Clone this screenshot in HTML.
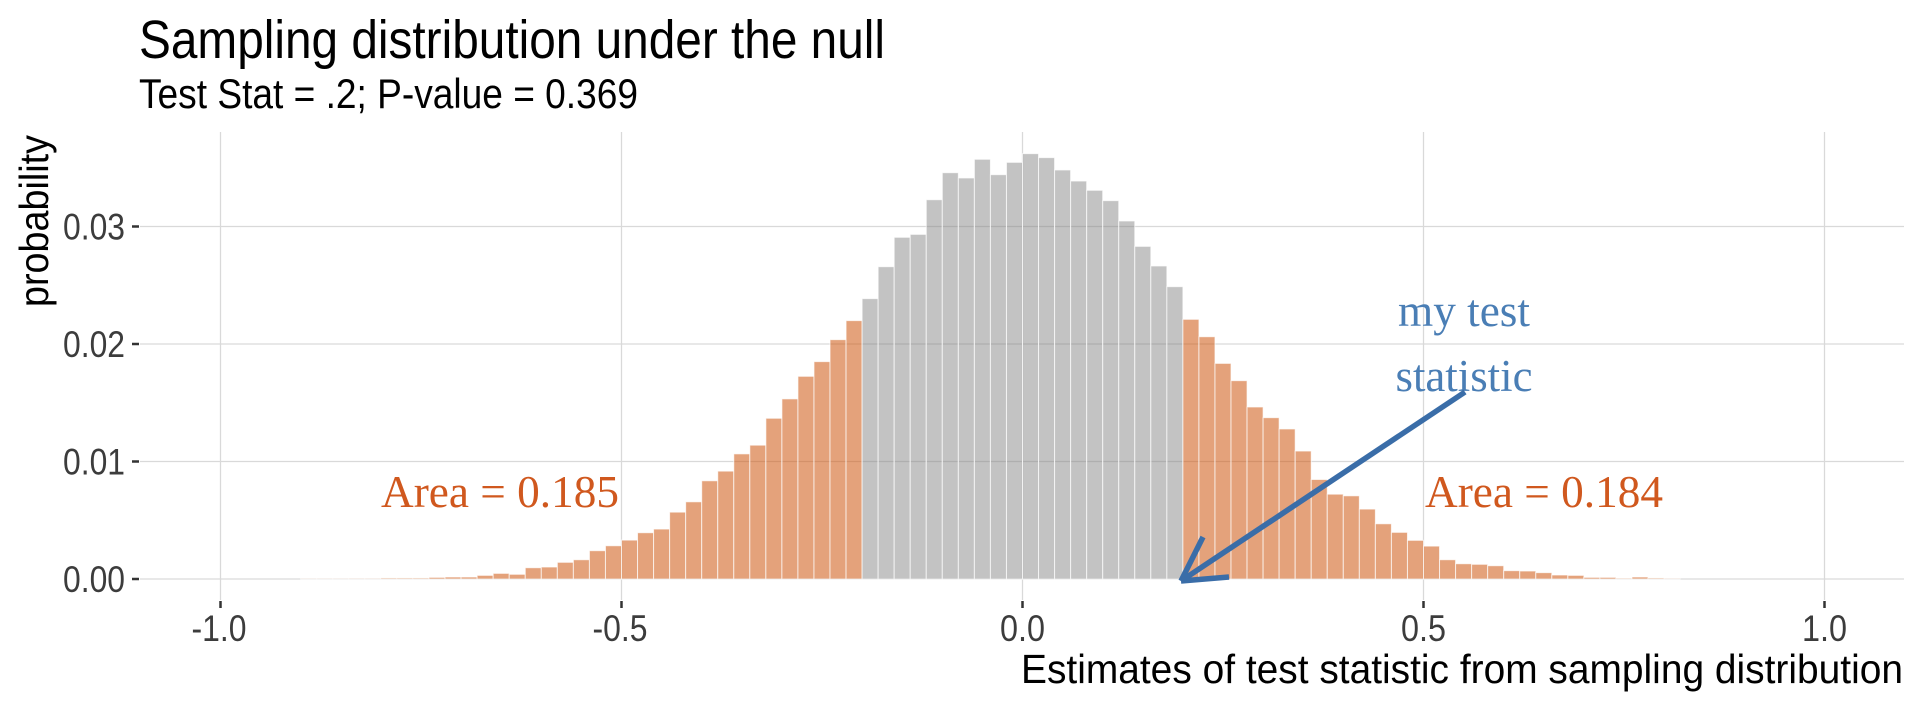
<!DOCTYPE html>
<html><head><meta charset="utf-8"><style>
html,body{margin:0;padding:0;background:#fff;}
svg{display:block;}
.c{font-family:"Liberation Sans Narrow","Liberation Sans",sans-serif;}
</style></head><body>
<svg id="s" width="1920" height="710" xmlns="http://www.w3.org/2000/svg">
<rect width="1920" height="710" fill="#fff"/>
<g id="grid" stroke="#d9d9d9" stroke-width="1.3">
<line x1="140" x2="1904" y1="579" y2="579"/>
<line x1="140" x2="1904" y1="461.5" y2="461.5"/>
<line x1="140" x2="1904" y1="344" y2="344"/>
<line x1="140" x2="1904" y1="226.5" y2="226.5"/>
<line x1="220.5" x2="220.5" y1="132" y2="600"/>
<line x1="621.5" x2="621.5" y1="132" y2="600"/>
<line x1="1022.5" x2="1022.5" y1="132" y2="600"/>
<line x1="1423.5" x2="1423.5" y1="132" y2="600"/>
<line x1="1824.5" x2="1824.5" y1="132" y2="600"/>
</g>
<g id="bars"></g>
<g stroke="#333" stroke-width="2.5">
<line x1="132" x2="139" y1="579" y2="579"/><line x1="132" x2="139" y1="461.5" y2="461.5"/>
<line x1="132" x2="139" y1="344" y2="344"/><line x1="132" x2="139" y1="226.5" y2="226.5"/>
<line x1="220.5" x2="220.5" y1="601" y2="608"/><line x1="621.5" x2="621.5" y1="601" y2="608"/>
<line x1="1022.5" x2="1022.5" y1="601" y2="608"/><line x1="1423.5" x2="1423.5" y1="601" y2="608"/>
<line x1="1824.5" x2="1824.5" y1="601" y2="608"/>
</g>
<g class="c" fill="#3c3c3c" font-size="37" text-anchor="end">
<text x="125" y="592" textLength="62" lengthAdjust="spacingAndGlyphs">0.00</text>
<text x="125" y="474.5" textLength="62" lengthAdjust="spacingAndGlyphs">0.01</text>
<text x="125" y="357" textLength="62" lengthAdjust="spacingAndGlyphs">0.02</text>
<text x="125" y="239.5" textLength="62" lengthAdjust="spacingAndGlyphs">0.03</text>
</g>
<g class="c" fill="#3c3c3c" font-size="37" text-anchor="middle">
<text x="219" y="641" textLength="55" lengthAdjust="spacingAndGlyphs">-1.0</text>
<text x="620" y="641" textLength="55" lengthAdjust="spacingAndGlyphs">-0.5</text>
<text x="1022.5" y="641" textLength="45" lengthAdjust="spacingAndGlyphs">0.0</text>
<text x="1423.5" y="641" textLength="45" lengthAdjust="spacingAndGlyphs">0.5</text>
<text x="1824.5" y="641" textLength="45" lengthAdjust="spacingAndGlyphs">1.0</text>
</g>
<text class="c" x="1903" y="683" font-size="41" text-anchor="end" fill="#000" textLength="882" lengthAdjust="spacingAndGlyphs">Estimates of test statistic from sampling distribution</text>
<text class="c" transform="translate(48,135) rotate(-90)" font-size="41" text-anchor="end" fill="#000" textLength="172" lengthAdjust="spacingAndGlyphs">probability</text>
<text class="c" x="139" y="58" font-size="54" fill="#000" textLength="746" lengthAdjust="spacingAndGlyphs">Sampling distribution under the null</text>
<text class="c" x="139" y="108" font-size="42" fill="#000" textLength="499" lengthAdjust="spacingAndGlyphs">Test Stat = .2; P-value = 0.369</text>
<g font-family="Liberation Serif, serif" font-size="45">
<text x="381" y="507" fill="#D0581E" textLength="238" lengthAdjust="spacingAndGlyphs">Area = 0.185</text>
<text x="1425" y="507" fill="#D0581E" textLength="238" lengthAdjust="spacingAndGlyphs">Area = 0.184</text>
<text x="1464" y="326" fill="#4A7EB5" text-anchor="middle" textLength="132" lengthAdjust="spacingAndGlyphs">my test</text>
<text x="1464" y="391" fill="#4A7EB5" text-anchor="middle" textLength="137" lengthAdjust="spacingAndGlyphs">statistic</text>
</g>
<g stroke="#3A6DA8" stroke-width="5.5" stroke-linecap="butt" fill="none">
<line x1="1465" y1="392" x2="1181" y2="581"/>
<line x1="1181" y1="581" x2="1203" y2="537"/>
<line x1="1181" y1="581" x2="1229" y2="577"/>
</g>
</svg>
<script>
var left=[0.00002,0.00002,0.00002,0.00003,0.00003,0.00009,0.00009,0.00009,0.00014,0.00017,0.00017,0.00031,0.00048,0.00040,0.00096,0.00102,0.00142,0.00164,0.00241,0.00283,0.00331,0.00394,0.00425,0.00569,0.00657,0.00836,0.00918,0.01065,0.01139,0.01368,0.01533,0.01725,0.01850,0.02037,0.02199];
var mid=[0.02386,0.02658,0.02908,0.02933,0.03228,0.03458,0.03413,0.03572,0.03441,0.03546,0.03620,0.03586,0.03481,0.03387,0.03308,0.03220,0.03047,0.02831,0.02664,0.02488];
var right=[0.02210,0.02062,0.01835,0.01688,0.01464,0.01373,0.01277,0.01089,0.00847,0.00722,0.00708,0.00595,0.00470,0.00397,0.00329,0.00280,0.00164,0.00130,0.00125,0.00113,0.00071,0.00068,0.00054,0.00034,0.00031,0.00014,0.00014,0.00006,0.00017,0.00009,0.00003];
var g=document.getElementById('bars'),h='';
function add(b,v,col,op){var x=1022.5+b*802,w=16.04,y=579-v*11750;
h+='<rect x="'+x.toFixed(2)+'" y="'+y.toFixed(2)+'" width="'+w+'" height="'+(579-y).toFixed(2)+'" fill="'+col+'" fill-opacity="'+op+'" stroke="#fff" stroke-opacity="0.7" stroke-width="1"/>';}
left.forEach(function(v,i){add(-0.90+i*0.02,v,'rgb(205,85,15)',0.55);});
mid.forEach(function(v,i){add(-0.20+i*0.02,v,'rgb(128,128,128)',0.47);});
right.forEach(function(v,i){add(0.20+i*0.02,v,'rgb(205,85,15)',0.55);});
g.innerHTML=h;
</script>
</body></html>
